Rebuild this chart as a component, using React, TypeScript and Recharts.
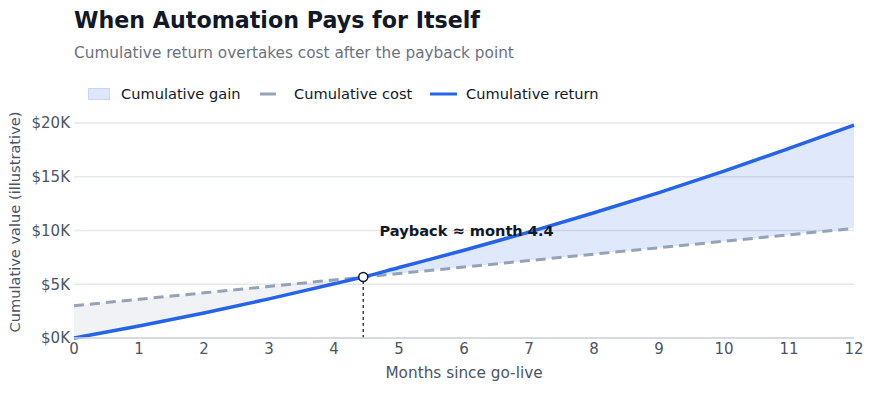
import React from 'react';
import {
  ComposedChart,
  Line,
  Area,
  XAxis,
  YAxis,
  CartesianGrid,
  ReferenceLine,
  ReferenceDot,
} from 'recharts';

// months since go-live (4.45 = payback crossing, shown as "4.4")
const months = [0, 1, 2, 3, 4, 4.45, 5, 6, 7, 8, 9, 10, 11, 12];
const cumulativeCost = [3000, 3600, 4200, 4800, 5400, 5670, 6000, 6600, 7200, 7800, 8400, 9000, 9600, 10200];
const cumulativeReturn = [0, 1120, 2330, 3640, 5050, 5670, 6560, 8160, 9850, 11650, 13530, 15530, 17640, 19800];
const yTicks = [0, 5000, 10000, 15000, 20000];
const xTicks = [0, 1, 2, 3, 4, 5, 6, 7, 8, 9, 10, 11, 12];
const paybackMonth = 4.45;
const paybackValue = 5670;

const data = months.map((m, i) => {
  const cost = cumulativeCost[i];
  const ret = cumulativeReturn[i];
  return {
    month: m,
    cost,
    ret,
    loss: m <= paybackMonth ? [ret, cost] : null,
    gain: m >= paybackMonth ? [cost, ret] : null,
  };
});

const FONT = '"DejaVu Sans", sans-serif';
const BLUE = '#2563eb';
const GRAY = '#94a3b8';
const TEXT_GRAY = '#4b5563';

const LegendRow = () => (
  <svg width={876} height={24} style={{ position: 'absolute', left: 0, top: 82 }}>
    <rect x={88.5} y={6.5} width={21} height={11} fill="#dde6fb" stroke="#c7d6f8" />
    <text x={121} y={17} fontSize={14.6} fill="#111827" fontFamily={FONT}>Cumulative gain</text>
    <line x1={260} x2={288} y1={12} y2={12} stroke={GRAY} strokeWidth={3} strokeDasharray="16 12" />
    <text x={294} y={17} fontSize={14.6} fill="#111827" fontFamily={FONT}>Cumulative cost</text>
    <line x1={430} x2={457} y1={12} y2={12} stroke={BLUE} strokeWidth={3} />
    <text x={466} y={17} fontSize={14.6} fill="#111827" fontFamily={FONT}>Cumulative return</text>
  </svg>
);

const fmt = (v: number) => `$${Math.round(v / 1000)}K`;

export default function App() {
  return (
    <div style={{ position: 'relative', width: 876, height: 400, fontFamily: FONT }}>
      <style>{'body{margin:0}'}</style>
      <div style={{ position: 'absolute', left: 74, top: 7, fontSize: 22.2, fontWeight: 700, color: '#111827' }}>
        When Automation Pays for Itself
      </div>
      <div style={{ position: 'absolute', left: 74, top: 44, fontSize: 15.3, color: '#6b7280' }}>
        Cumulative return overtakes cost after the payback point
      </div>
      <LegendRow />
      <div style={{ position: 'absolute', left: 0, top: 0 }}>
        <ComposedChart
          width={876}
          height={400}
          data={data}
          margin={{ top: 123, right: 22, bottom: 12, left: 0 }}
        >
          <CartesianGrid vertical={false} stroke="#e5e7eb" strokeWidth={1.5} />
          <XAxis
            dataKey="month"
            type="number"
            domain={[0, 12]}
            ticks={xTicks}
            height={50}
            tickSize={0}
            tickMargin={5}
            tick={{ fontSize: 15, fill: TEXT_GRAY, fontFamily: FONT }}
            axisLine={{ stroke: '#d1d5db', strokeWidth: 1.5 }}
            tickLine={false}
            label={{
              content: () => (
                <text
                  x={464}
                  y={373}
                  textAnchor="middle"
                  dominantBaseline="central"
                  fontSize={15.3}
                  fill={TEXT_GRAY}
                  fontFamily={FONT}
                >
                  Months since go-live
                </text>
              ),
            }}
          />
          <YAxis
            type="number"
            domain={[0, 20000]}
            ticks={yTicks}
            width={74}
            tickSize={0}
            tickMargin={4}
            tickFormatter={fmt}
            tick={{ fontSize: 15, fill: TEXT_GRAY, fontFamily: FONT }}
            axisLine={false}
            tickLine={false}
            label={{
              content: () => (
                <text
                  x={14}
                  y={222}
                  transform="rotate(-90 14 222)"
                  textAnchor="middle"
                  dominantBaseline="central"
                  fontSize={14.6}
                  fill={TEXT_GRAY}
                  fontFamily={FONT}
                >
                  Cumulative value (illustrative)
                </text>
              ),
            }}
          />
          <Area
            dataKey="loss"
            type="linear"
            stroke="none"
            fill={GRAY}
            fillOpacity={0.14}
            legendType="none"
            connectNulls={false}
            isAnimationActive={false}
          />
          <Area
            dataKey="gain"
            type="linear"
            stroke="none"
            fill={BLUE}
            fillOpacity={0.14}
            connectNulls={false}
            isAnimationActive={false}
          />
          <Line
            dataKey="cost"
            type="linear"
            stroke={GRAY}
            strokeWidth={3}
            strokeDasharray="10 6"
            dot={false}
            isAnimationActive={false}
          />
          <Line
            dataKey="ret"
            type="monotone"
            stroke={BLUE}
            strokeWidth={3.5}
            dot={false}
            isAnimationActive={false}
          />
          <ReferenceLine
            segment={[{ x: paybackMonth, y: 0 }, { x: paybackMonth, y: paybackValue }]}
            stroke="#374151"
            strokeWidth={1.5}
            strokeDasharray="3 3"
          />
          <ReferenceDot
            x={paybackMonth}
            y={paybackValue}
            r={4.5}
            fill="#ffffff"
            stroke="#111827"
            strokeWidth={1.5}
          />
          <ReferenceDot
            x={4.7}
            y={10000}
            r={0}
            fill="none"
            stroke="none"
            label={{
              content: (props: any) => (
                <text
                  x={props.viewBox.x}
                  y={props.viewBox.y}
                  dominantBaseline="central"
                  fontSize={14.6}
                  fontWeight={700}
                  fill="#111827"
                  fontFamily={FONT}
                >
                  Payback ≈ month 4.4
                </text>
              ),
            }}
          />
        </ComposedChart>
      </div>
    </div>
  );
}
